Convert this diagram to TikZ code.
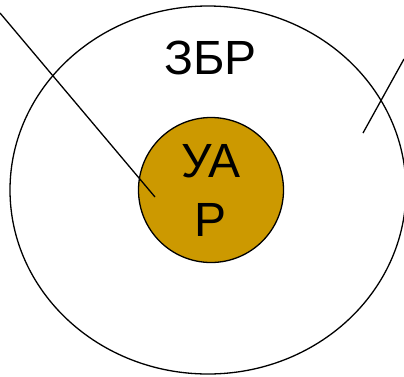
\documentclass[tikz,border=0pt]{standalone}
\usepackage{fontspec}
\setmainfont{Liberation Sans}
\usetikzlibrary{shapes.geometric, positioning}
\definecolor{ZoneGold}{HTML}{CC9900}

\begin{document}
\begin{tikzpicture}[
    x=1pt, y=-1pt,
    zone/.style={ellipse, draw=black, line width=1.3pt, inner sep=0pt, minimum width=396pt, minimum height=368pt},
    core/.style={circle, draw=black, line width=1.3pt, fill=ZoneGold, inner sep=0pt, minimum size=145pt, align=center, font=\fontsize{48}{59}\selectfont},
    lbl/.style={font=\fontsize{48}{58}\selectfont, inner sep=0pt},
    lead/.style={draw=black, line width=1.3pt}
]
\useasboundingbox (0, 0) rectangle (404, 376);
\clip (0, 0) rectangle (404, 376);

\node[zone] (zbr) at (208, 190) {};
\node[lbl] (zbrtext) at (210.5, 58) {ЗБР};
\node[core] (uar) at (211, 190) {УА\\Р};

% Leader lines
\coordinate (leadA) at (0, 13);
\coordinate (tipA) at (155, 197);
\coordinate (leadB) at (404, 59);
\coordinate (tipB) at (363, 133);
\draw[lead] (leadA) -- (tipA);
\draw[lead] (leadB) -- (tipB);
\end{tikzpicture}
\end{document}
